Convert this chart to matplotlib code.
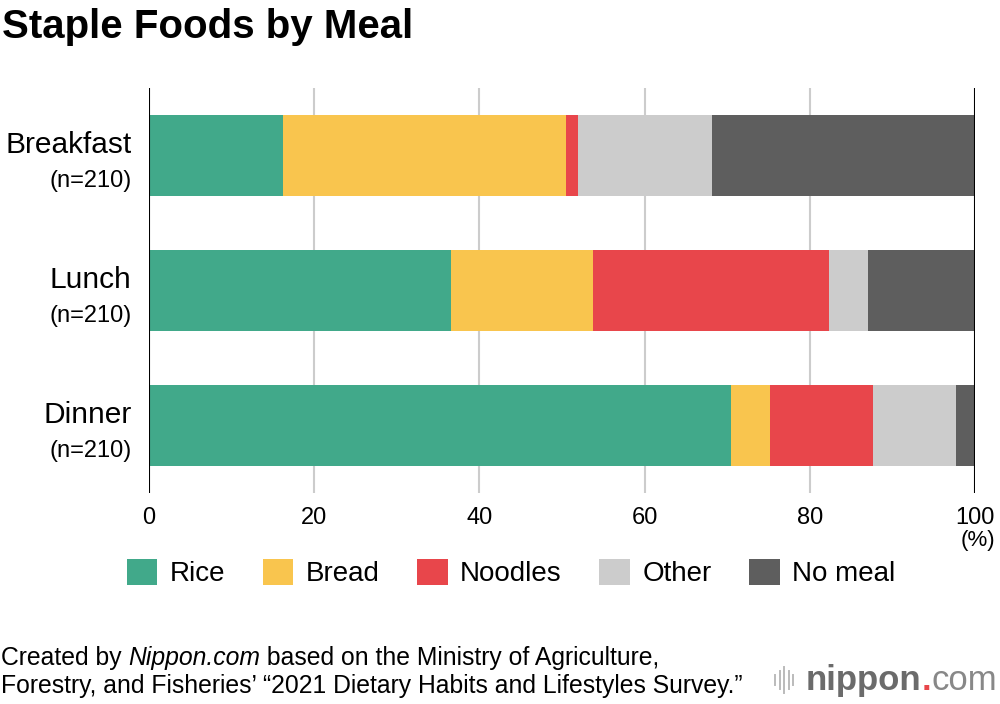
import matplotlib
matplotlib.use('Agg')
import matplotlib.pyplot as plt
from matplotlib.lines import Line2D
from matplotlib.patches import Patch

plt.rcParams['font.family'] = ['Liberation Sans', 'DejaVu Sans']

# Данные
meals = ['Breakfast', 'Lunch', 'Dinner']
sample_sizes = ['(n=210)', '(n=210)', '(n=210)']
categories = ['Rice', 'Bread', 'Noodles', 'Other', 'No meal']
rice = [16.2, 36.6, 70.5]
bread = [34.3, 17.2, 4.7]
noodles = [1.4, 28.5, 12.5]
other = [16.3, 4.7, 10.0]
no_meal = [31.8, 13.0, 2.3]
colors = ['#41a98a', '#f9c54e', '#e8464b', '#cccccc', '#5e5e5e']
ticks = [0, 20, 40, 60, 80, 100]

fig = plt.figure(figsize=(10, 7.04), dpi=100)
ax = fig.add_axes([0.149, 0.2997, 0.826, 0.5753])

series = [rice, bread, noodles, other, no_meal]
left = [0, 0, 0]
for vals, col, name in zip(series, colors, categories):
    ax.barh(range(len(meals)), vals, left=left, height=0.6, color=col, label=name, zorder=3)
    left = [a + b for a, b in zip(left, vals)]

ax.set_xlim(0, 100)
ax.set_ylim(2.5, -0.5)
for t in ticks[1:-1]:
    ax.axvline(t, color='#cccccc', lw=1.5, zorder=1)
ax.axvline(0, color='black', lw=1.5, zorder=4)
ax.axvline(100, color='black', lw=1.5, zorder=4)
for s in ax.spines.values():
    s.set_visible(False)
ax.set_xticks(ticks)
ax.set_xticklabels([str(t) for t in ticks], fontsize=17)
ax.tick_params(axis='x', length=0, pad=10)
ax.set_yticks([])

for i, (m, n) in enumerate(zip(meals, sample_sizes)):
    ax.text(-2.1, i - 0.08, m, ha='right', va='center', fontsize=21.5)
    ax.text(-2.1, i + 0.19, n, ha='right', va='center', fontsize=17)

fig.text(0.995, 0.232, '(%)', ha='right', va='center', fontsize=16)

fig.text(0.002, 0.962, 'Staple Foods by Meal', fontsize=29, fontweight='bold', va='center')

handles = [Patch(facecolor=c, label=l) for c, l in zip(colors, categories)]
fig.legend(handles=handles, loc='center', bbox_to_anchor=(0.511, 0.186), ncol=5,
           frameon=False, fontsize=20, handlelength=1.1, handleheight=1.1,
           handletextpad=0.45, columnspacing=1.35)

# Подпись
fig.canvas.draw()
r = fig.canvas.get_renderer()
fs = 17.8
t1 = fig.text(0.001, 0.066, 'Created by ', fontsize=fs, va='center')
bb = t1.get_window_extent(r)
t2 = fig.text(bb.x1 / 1000, 0.066, 'Nippon.com', fontsize=fs, style='italic', va='center')
bb = t2.get_window_extent(r)
fig.text(bb.x1 / 1000, 0.066, ' based on the Ministry of Agriculture,', fontsize=fs, va='center')
fig.text(0.001, 0.026, 'Forestry, and Fisheries\u2019 \u201c2021 Dietary Habits and Lifestyles Survey.\u201d',
         fontsize=fs, va='center')

# Логотип
for k, h in enumerate([0.014, 0.026, 0.036, 0.026, 0.014]):
    x = 0.775 + k * 0.0045
    fig.add_artist(Line2D([x, x], [0.034 - h / 2, 0.034 + h / 2], color='#bbbbbb', lw=1.4))
l1 = fig.text(0.806, 0.034, 'nippon', fontsize=25, fontweight='bold', color='#6b6b6b', va='center')
bb = l1.get_window_extent(r)
l2 = fig.text(bb.x1 / 1000, 0.034, '.', fontsize=25, fontweight='bold', color='#e8464b', va='center')
bb = l2.get_window_extent(r)
fig.text(bb.x1 / 1000, 0.034, 'com', fontsize=25, color='#888888', va='center')

plt.savefig('out.png', dpi=100)
plt.close()
